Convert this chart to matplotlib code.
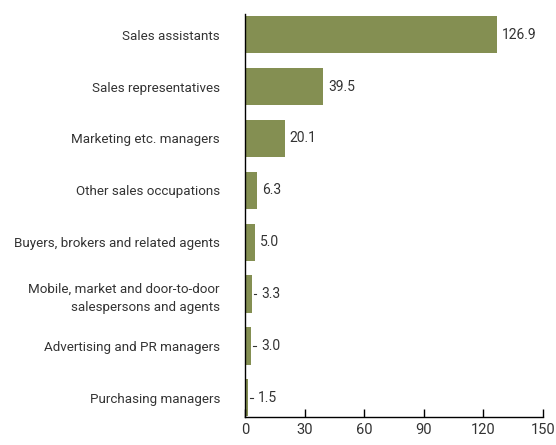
import matplotlib.pyplot as plt

occupations = [
    "Sales assistants",
    "Sales representatives",
    "Marketing etc. managers",
    "Other sales occupations",
    "Buyers, brokers and related agents",
    "Mobile, market and door-to-door\nsalespersons and agents",
    "Advertising and PR managers",
    "Purchasing managers",
]
values = [126.9, 39.5, 20.1, 6.3, 5.0, 3.3, 3.0, 1.5]
xticks = [0, 30, 60, 90, 120, 150]

bar_color = "#848f52"
text_color = "#333333"
plt.rcParams['font.family'] = ['Roboto', 'DejaVu Sans']

fig = plt.figure(figsize=(5.56, 4.45), dpi=100)
ax = fig.add_axes([0.4406, 0.0629, 0.536, 0.9056])

n = len(values)
ypos = [n - 1 - i for i in range(n)]
ax.barh(ypos, values, height=0.72, color=bar_color)

for y, v in zip(ypos, values):
    if v < 4:
        # short leader from tiny bars to their label
        ax.plot([v + 1.0, v + 2.5], [y, y], color=text_color, lw=0.8)
        ax.text(v + 5.0, y, f"{v:.1f}", va="center", ha="left", fontsize=10, color=text_color)
    else:
        ax.text(v + 2.5, y, f"{v:.1f}", va="center", ha="left", fontsize=10, color=text_color)

ax.set_yticks(ypos)
ax.set_yticklabels(occupations, fontsize=9.6, color=text_color, linespacing=1.5)
for lbl in ax.get_yticklabels():
    lbl.set_horizontalalignment("right")
    lbl.set_multialignment("right")
ax.tick_params(axis="y", length=0, pad=18)

ax.set_xlim(0, 150)
ax.set_ylim(-0.37, n - 1 + 0.4)
ax.set_xticks(xticks)
ax.tick_params(axis="x", direction="in", length=6, width=1, labelsize=10.5, labelcolor=text_color, pad=4)

for side in ["top", "right"]:
    ax.spines[side].set_visible(False)
ax.spines["left"].set_linewidth(1)
ax.spines["bottom"].set_linewidth(1)

fig.savefig("out.png", dpi=100)
